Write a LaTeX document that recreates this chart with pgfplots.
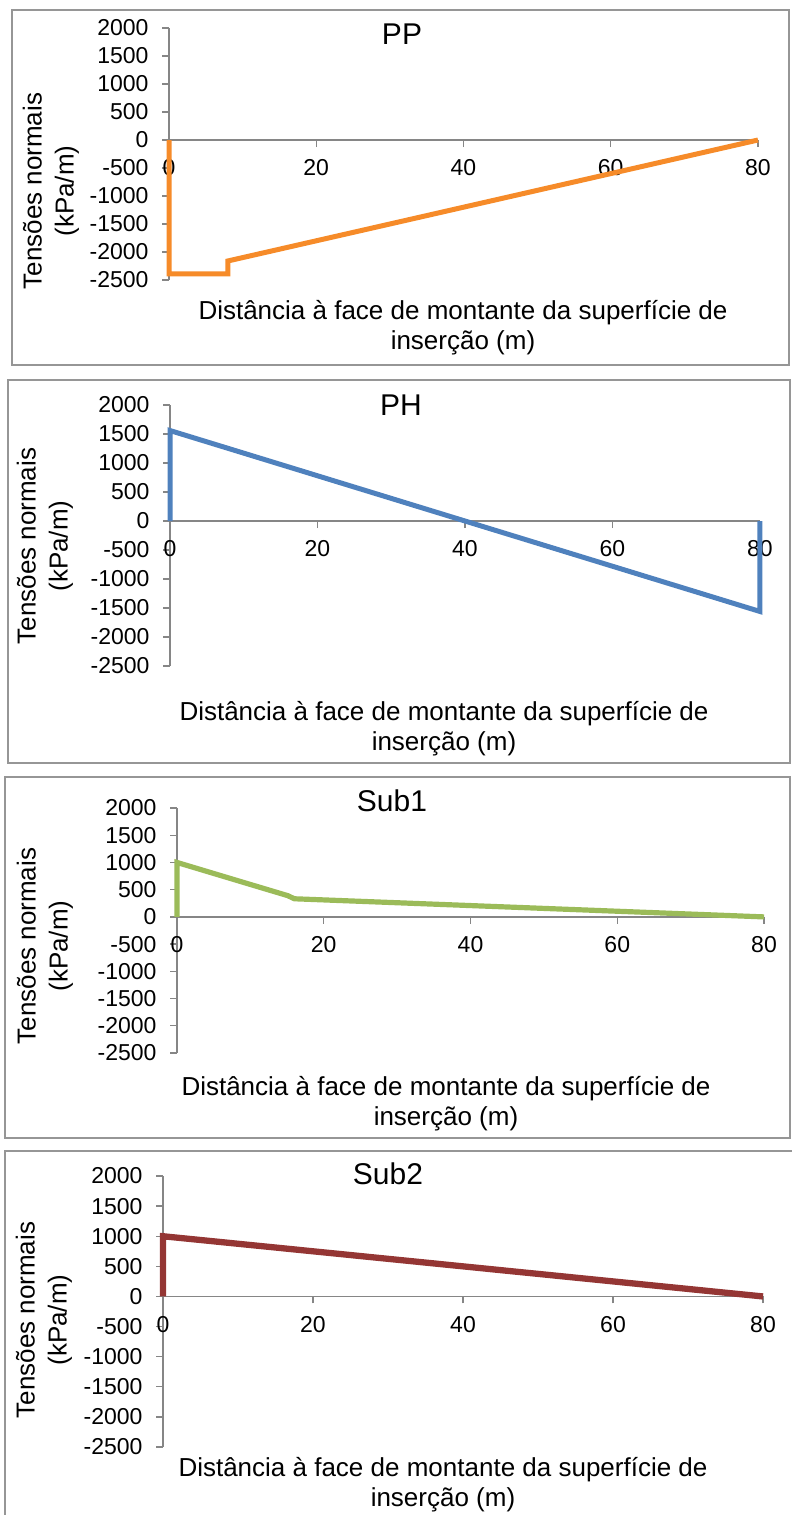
\documentclass[border=0pt]{standalone}
\usepackage{fontspec}
\setmainfont{Liberation Sans}
\usepackage{pgfplots}
\pgfplotsset{compat=1.18}
\definecolor{ppc}{RGB}{246,139,41}
\definecolor{phc}{RGB}{79,129,189}
\definecolor{sac}{RGB}{155,187,89}
\definecolor{sbc}{RGB}{148,54,52}
\definecolor{axc}{RGB}{134,134,134}
\definecolor{boxc}{RGB}{150,150,150}
\pgfplotsset{
  panel/.style={
    scale only axis, clip=false,
    xmin=0, xmax=80, ymin=-2500, ymax=2000,
    axis x line=middle, axis y line=left,
    axis line style={-, draw=axc, line width=1.3pt},
    xtick={0,20,40,60,80},
    ytick={-2500,-2000,-1500,-1000,-500,0,500,1000,1500,2000},
    tick align=outside,
    major tick length=7pt,
    tick style={draw=axc, line width=1.3pt},
    hide obscured x ticks=false,
    hide obscured y ticks=false,
    /pgf/number format/assume math mode=true,
    /pgf/number format/1000 sep={},
    tick label style={font=\fontsize{23}{26}\selectfont, text=black},
    yticklabel style={xshift=-10pt},
    xticklabel style={yshift=-9pt},
    anchor=south west,
  }
}
\tikzset{
  ttl/.style={font=\fontsize{30}{36}\selectfont},
  ylab/.style={rotate=90, align=center, font=\fontsize{26}{32}\selectfont},
  xlab/.style={align=center, font=\fontsize{26}{30}\selectfont},
}
\begin{document}
\begin{tikzpicture}
\useasboundingbox (0pt,0pt) rectangle (792pt,-1515pt);
% frames
\draw[boxc, line width=1.3pt] (12pt,-10pt) rectangle (789pt,-365pt);
\draw[boxc, line width=1.3pt] (8pt,-380pt) rectangle (790pt,-763pt);
\draw[boxc, line width=1.3pt] (5pt,-777pt) rectangle (790pt,-1138pt);
\draw[boxc, line width=1.3pt] (5pt,-1530pt) -- (5pt,-1151pt) -- (800pt,-1151pt);

% PP
\begin{axis}[panel, at={(169pt,-280pt)}, width=589pt, height=252pt]
\addplot[ppc, line width=5pt] coordinates {(0,0) (0,-2390) (8,-2390) (8,-2160) (80,0)};
\end{axis}
\node[ttl] at (402pt,-34pt) {PP};
\node[ylab] at (51pt,-191pt) {Tensões normais\\(kPa/m)};
\node[xlab] at (463pt,-328pt) {Distância à face de montante da superfície de\\inserção (m)};

% PH
\begin{axis}[panel, at={(170pt,-666pt)}, width=590pt, height=261pt]
\addplot[phc, line width=5pt] coordinates {(0,0) (0,1560) (80,-1560) (80,0)};
\end{axis}
\node[ttl] at (401pt,-405pt) {PH};
\node[ylab] at (45pt,-546pt) {Tensões normais\\(kPa/m)};
\node[xlab] at (444pt,-729pt) {Distância à face de montante da superfície de\\inserção (m)};

% Sub1
\begin{axis}[panel, at={(177pt,-1053pt)}, width=587pt, height=245pt]
\addplot[sac, line width=5.2pt] coordinates {(0,0) (0,1000) (15.1,390) (16,333) (80,0)};
\end{axis}
\node[ttl] at (392pt,-801pt) {Sub1};
\node[ylab] at (45pt,-946pt) {Tensões normais\\(kPa/m)};
\node[xlab] at (446pt,-1104pt) {Distância à face de montante da superfície de\\inserção (m)};

% Sub2
\begin{axis}[panel, at={(163pt,-1447pt)}, width=600pt, height=271pt]
\addplot[sbc, line width=6.3pt] coordinates {(0,0) (0,1000) (80,0)};
\end{axis}
\node[ttl] at (388pt,-1174pt) {Sub2};
\node[ylab] at (44pt,-1320pt) {Tensões normais\\(kPa/m)};
\node[xlab] at (443pt,-1485pt) {Distância à face de montante da superfície de\\inserção (m)};
\end{tikzpicture}
\end{document}
